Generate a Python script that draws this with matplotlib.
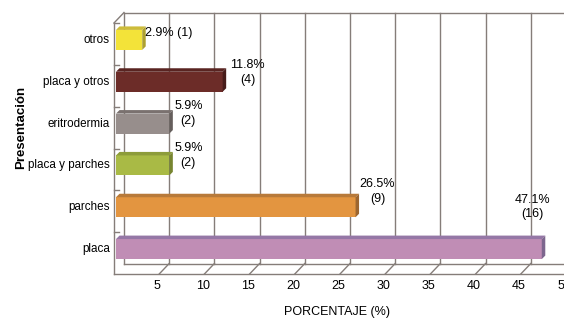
import matplotlib
matplotlib.use("Agg")
import matplotlib.pyplot as plt
from matplotlib.patches import Polygon
from matplotlib import transforms

categorias = ["placa", "parches", "placa y parches", "eritrodermia", "placa y otros", "otros"]
porcentajes = [47.1, 26.5, 5.9, 5.9, 11.8, 2.9]
casos = [16, 9, 2, 2, 4, 1]
ticks_x = [5, 10, 15, 20, 25, 30, 35, 40, 45, 50]

color_frente = ["#C08DB5", "#E39540", "#A9BA45", "#978E8C", "#6C2C28", "#F3E339"]
color_arriba = ["#9577A6", "#B87A3A", "#8D9C3A", "#7A716F", "#592421", "#CDBC3A"]
color_lado = ["#7D668E", "#9C6630", "#778530", "#655E5C", "#471C1A", "#ADA030"]

# desplazamiento de las etiquetas respecto al final de la barra (pixeles)
offs_etq = [(-9, 42), (22, 16), (19, 10), (19, 10), (25, 9), (3, 7)]

plt.rcParams["font.family"] = ["Liberation Sans", "DejaVu Sans"]

W, H = 564, 320
fig = plt.figure(figsize=(W / 100, H / 100), dpi=100)

x0, yb, yt = 114, 274, 23
px_x = 9.04
ax = fig.add_axes([x0 / W, (H - yb) / H, 50 * px_x / W, (yb - yt) / H])
ax.set_xlim(0, 50)
ax.set_ylim(-0.5, 5.5)
ax.axis("off")

ppu_y = (yb - yt) / 6.0
# profundidad de la pared del fondo en unidades de datos
DX, DY = 10 / px_x, 10.5 / ppu_y
gris = "#857D79"
kw = dict(color=gris, lw=1.0, clip_on=False)

# pared del fondo
for v in [0] + ticks_x:
    ax.plot([v + DX, v + DX], [-0.5 + DY, 5.5 + DY], **kw)
ax.plot([DX, 50 + DX], [5.5 + DY, 5.5 + DY], **kw)
ax.plot([DX, 50 + DX], [-0.5 + DY, -0.5 + DY], **kw)
# piso y pared izquierda
ax.plot([0, 50], [-0.5, -0.5], **kw)
ax.plot([0, 0], [-0.5, 5.5], **kw)
ax.plot([0, DX], [5.5, 5.5 + DY], **kw)
for v in ticks_x:
    ax.plot([v, v + DX], [-0.5, -0.5 + DY], **kw)
    ax.text(v - 0.2, -0.5, str(v), transform=transforms.offset_copy(ax.transData, fig=fig, x=0, y=-6, units="dots"),
            ha="center", va="top", fontsize=9)
for i in range(6):
    ax.plot([0, 0.5], [i + 0.5, i + 0.5], **kw)

# barras
bar_tr = transforms.offset_copy(ax.transData, fig=fig, x=2, y=4, units="dots")
h = 20 / ppu_y
bx, by = 3.5 / px_x, 3.5 / ppu_y
for i, v in enumerate(porcentajes):
    ax.barh(i, v, height=h, color=color_frente[i], transform=bar_tr, clip_on=False, zorder=3)
    top = [(0, i + h / 2), (v, i + h / 2), (v + bx, i + h / 2 + by), (bx, i + h / 2 + by)]
    side = [(v, i - h / 2), (v + bx, i - h / 2 + by), (v + bx, i + h / 2 + by), (v, i + h / 2)]
    ax.add_patch(Polygon(top, closed=True, facecolor=color_arriba[i], edgecolor="none",
                         transform=bar_tr, clip_on=False, zorder=3))
    ax.add_patch(Polygon(side, closed=True, facecolor=color_lado[i], edgecolor="none",
                         transform=bar_tr, clip_on=False, zorder=3))
    ax.text(-0.7, i, categorias[i], transform=bar_tr, ha="right", va="center", fontsize=8.4)
    if i == 5:
        txt, ha = "%.1f%% (%d)" % (v, casos[i]), "left"
    else:
        txt, ha = "%.1f%%\n(%d)" % (v, casos[i]), "center"
    dx, dy = offs_etq[i]
    ax.annotate(txt, xy=(v, i), xycoords=bar_tr, xytext=(dx * 0.72, dy * 0.72), textcoords="offset points",
                ha=ha, va="center", fontsize=9, linespacing=1.3, zorder=4)

fig.text(21 / W, 1 - 127 / H, "Presentación", rotation=90, ha="center", va="center",
         fontsize=9.5, fontweight="bold")
fig.text(337 / W, 1 - 312 / H, "PORCENTAJE (%)", ha="center", va="center", fontsize=9)

fig.savefig("out.png", dpi=100)
